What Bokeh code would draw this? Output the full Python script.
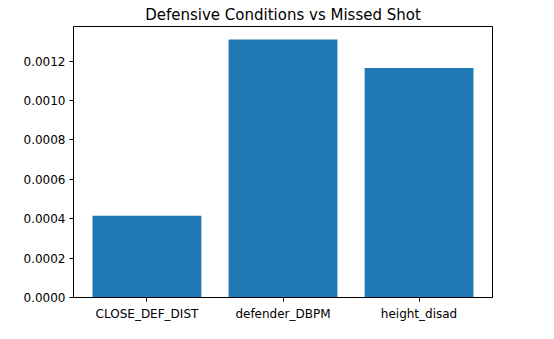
from bokeh.plotting import figure
from bokeh.models import FactorRange, Range1d, FixedTicker, PrintfTickFormatter, ColumnDataSource
from bokeh.embed import file_html
from bokeh.resources import INLINE

categories = ["CLOSE_DEF_DIST", "defender_DBPM", "height_disad"]
values = [0.000415, 0.00131, 0.001165]
y_ticks = [0.0, 0.0002, 0.0004, 0.0006, 0.0008, 0.0010, 0.0012]

source = ColumnDataSource(data=dict(cat=categories, val=values))

p = figure(
    width=546, height=331,
    x_range=FactorRange(factors=categories, range_padding=0.08 / 3),
    y_range=Range1d(0, max(values) * 1.05),
    output_backend="svg", toolbar_location=None,
    title="Defensive Conditions vs Missed Shot",
    min_border_left=73, min_border_right=54, min_border_bottom=34, min_border_top=24,
)
p.vbar(x="cat", top="val", width=0.8, source=source, color="#1f77b4", line_color=None)

p.title.align = "center"
p.title.text_font = "DejaVu Sans"
p.title.text_font_size = "15px"
p.title.text_font_style = "normal"
p.title.text_color = "#000000"
p.title.standoff = 6

p.xgrid.visible = False
p.ygrid.visible = False
p.outline_line_color = "#000000"
p.outline_line_width = 1
p.outline_line_alpha = 1

for ax in (p.xaxis[0], p.yaxis[0]):
    ax.axis_line_color = "#000000"
    ax.major_tick_line_color = "#000000"
    ax.major_tick_out = 4
    ax.major_tick_in = 0
    ax.minor_tick_line_color = None
    ax.major_label_text_font = "DejaVu Sans"
    ax.major_label_text_font_size = "12px"
    ax.major_label_text_color = "#000000"
    ax.major_label_standoff = 4

p.xaxis[0].major_label_standoff = 5
p.yaxis[0].ticker = FixedTicker(ticks=y_ticks)
p.yaxis[0].formatter = PrintfTickFormatter(format="%.4f")
p.xaxis[0].group_text_font_size = "12px"

open("out.html", "w").write(file_html(p, INLINE))
